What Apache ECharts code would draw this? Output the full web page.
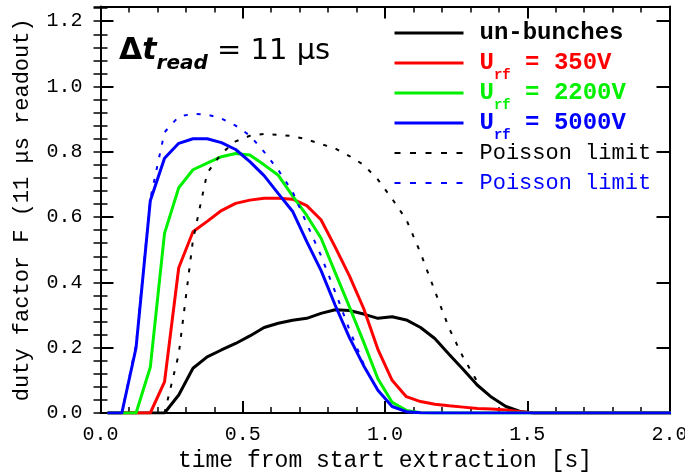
<!DOCTYPE html>
<html>
<head>
<meta charset="utf-8">
<script src="https://cdn.jsdelivr.net/npm/echarts@6/dist/echarts.min.js"></script>
<style>
html,body{margin:0;padding:0;background:#fff;}
#chart{width:685px;height:472px;}
</style>
</head>
<body>
<div id="chart"></div>
<script>
// ---- data ----
const xs = [0.025,0.075,0.125,0.175,0.225,0.275,0.325,0.375,0.425,0.475,
            0.525,0.575,0.625,0.675,0.725,0.775,0.825,0.875,0.925,0.975,
            1.025,1.075,1.125,1.175,1.225,1.275,1.325,1.375,1.425,1.475,
            1.525,1.575,1.625,1.675,1.725,1.775,1.825,1.875,1.925,1.975,2.025];

const unbunched = [0,0,0,0,0,0.055,0.137,0.172,0.193,0.213,
                   0.236,0.262,0.275,0.284,0.29,0.305,0.316,0.314,0.303,0.29,
                   0.295,0.285,0.262,0.228,0.18,0.133,0.085,0.048,0.02,0.005,
                   0,0,0,0,0,0,0,0,0,0,0];
const u350 = [0,0,0,0,0.095,0.445,0.555,0.587,0.62,0.642,
              0.652,0.658,0.658,0.655,0.635,0.592,0.508,0.42,0.32,0.195,
              0.10,0.05,0.035,0.027,0.022,0.018,0.014,0.012,0.009,0.004,
              0,0,0,0,0,0,0,0,0,0,0];
const u2200 = [0,0,0,0.14,0.55,0.69,0.745,0.765,0.785,0.795,
               0.79,0.76,0.728,0.665,0.605,0.536,0.43,0.325,0.217,0.105,
               0.033,0.008,0.001,0,0,0,0,0,0,0,
               0,0,0,0,0,0,0,0,0,0,0];
const u5000 = [0,0,0.20,0.65,0.78,0.826,0.84,0.84,0.828,0.807,
               0.77,0.727,0.672,0.618,0.525,0.437,0.33,0.231,0.145,0.07,
               0.02,0.004,0.001,0,0,0,0,0,0,0,
               0,0,0,0,0,0,0,0,0,0,0];
const poissonUnbunched = [null,null,null,null,0,0.18,0.53,0.735,0.795,0.832,
                          0.849,0.855,0.852,0.848,0.838,0.824,0.81,0.787,0.76,0.715,
                          0.656,0.592,0.49,0.374,0.26,0.17,0.095,null,null,null,
                          null,null,null,null,null,null,null,null,null,null,null];
const poisson5000 = [0,0,0.21,0.655,0.86,0.908,0.916,0.914,0.902,0.88,
                     0.85,0.80,0.744,0.678,0.58,0.482,0.371,0.255,0.15,null,
                     null,null,null,null,null,null,null,null,null,null,
                     null,null,null,null,null,null,null,null,null,null,null];

const seriesNames = ['un-bunches','Urf = 350V','Urf = 2200V','Urf = 5000V','Poisson limit (un-bunches)','Poisson limit (5000V)'];
const xTicks = [0, 0.5, 1.0, 1.5, 2.0];
const yTicks = [0, 0.2, 0.4, 0.6, 0.8, 1.0, 1.2];

function pts(vals){
  const out = [];
  vals.forEach((v,i)=>{ if(v!==null) out.push([xs[i], v]); });
  return out;
}

const MONO = 'Liberation Mono';
const GREEN = '#00f000';
const chart = echarts.init(document.getElementById('chart'), null, {renderer:'canvas'});

// spacer tokens (h above, l below) keep every legend row the same height
const spacer = {
  h: {fontFamily: MONO, fontSize:14, lineHeight:2, padding:[0,0,24,0], color:'rgba(0,0,0,0)'},
  l: {fontFamily: MONO, fontSize:14, lineHeight:2, padding:[24,0,0,0], color:'rgba(0,0,0,0)'}
};
function legendItem(name, color, kind, dotted){
  const st = {color: color, fontFamily: MONO};
  if (kind === 'u') {
    st.rich = Object.assign({
      u: {fontFamily: MONO, fontWeight:'bold', fontSize:24, color:color, lineHeight:26, padding:[0,0,0,11]},
      s: {fontFamily: MONO, fontWeight:'bold', fontSize:14, color:color, lineHeight:2, padding:[24,0,0,0]},
      t: {fontFamily: MONO, fontWeight:'bold', fontSize:24, color:color, lineHeight:26}
    }, spacer);
  } else {
    st.rich = Object.assign({
      b: {fontFamily: MONO, fontWeight: kind==='b' ? 'bold':'normal', fontSize: kind==='b'?24:22, color:color, lineHeight:26, padding:[0,0,0,11]}
    }, spacer);
  }
  return {
    name: name, textStyle: st,
    lineStyle: dotted ? {color: color, width: 2, type: [6, 9.5]} : {color: color, width: 3, type: 'solid'}
  };
}

const legendText = {};
legendText[seriesNames[0]] = '{b|un-bunches}{h| }{l| }';
legendText[seriesNames[1]] = '{u|U}{s|rf}{t| = 350V}{h| }';
legendText[seriesNames[2]] = '{u|U}{s|rf}{t| = 2200V}{h| }';
legendText[seriesNames[3]] = '{u|U}{s|rf}{t| = 5000V}{h| }';
legendText[seriesNames[4]] = '{b|Poisson limit}{h| }{l| }';
legendText[seriesNames[5]] = '{b|Poisson limit}{h| }{l| }';

const axisLineStyle = {color:'#000', width:2};

const option = {
  animation: false,
  backgroundColor: '#fff',
  grid: {left: 100.5, right: 15.5, top: 6.5, bottom: 59, containLabel: false, outerBoundsMode: 'none'},
  legend: {
    orient: 'vertical',
    left: 393, top: 14,
    padding: 0,
    itemGap: -8,
    itemWidth: 69,
    itemHeight: 14,
    itemStyle: {opacity: 0},
    data: [
      legendItem(seriesNames[0], '#000000', 'b', false),
      legendItem(seriesNames[1], '#ff0000', 'u', false),
      legendItem(seriesNames[2], GREEN, 'u', false),
      legendItem(seriesNames[3], '#0000ff', 'u', false),
      legendItem(seriesNames[4], '#000000', 'n', true),
      legendItem(seriesNames[5], '#0000ff', 'n', true)
    ],
    formatter: function(name){ return legendText[name]; },
    selectedMode: false
  },
  xAxis: [
    {
      type:'value', position:'bottom', min:0, max:2, interval:0.5,
      axisLine:{show:true, onZero:false, lineStyle:axisLineStyle},
      axisTick:{show:true, inside:true, length:12, lineStyle:{color:'#000', width:2}},
      minorTick:{show:true, splitNumber:5, length:6, lineStyle:{color:'#000', width:1.5}},
      splitLine:{show:false},
      axisLabel:{show:true, margin:12, fontFamily:MONO, fontSize:20, color:'#000',
                 formatter: v => (xTicks.some(t=>Math.abs(t-v)<1e-6) ? v.toFixed(1) : '')},
      name:'time from start extraction [s]', nameLocation:'middle', nameGap:34,
      nameTextStyle:{fontFamily:MONO, fontSize:23, color:'#000'}
    },
    {
      type:'value', position:'top', min:0, max:2, interval:0.5,
      axisLine:{show:true, onZero:false, lineStyle:axisLineStyle},
      axisTick:{show:true, inside:true, length:12, lineStyle:{color:'#000', width:2}},
      minorTick:{show:true, splitNumber:5, length:6, lineStyle:{color:'#000', width:1.5}},
      splitLine:{show:false},
      axisLabel:{show:false}
    }
  ],
  yAxis: [
    {
      type:'value', position:'left', min:0, max:1.245, interval:0.2,
      axisLine:{show:true, onZero:false, lineStyle:axisLineStyle},
      axisTick:{show:true, inside:true, length:13, lineStyle:{color:'#000', width:2}},
      splitLine:{show:false},
      axisLabel:{show:true, margin:18, fontFamily:MONO, fontSize:20, color:'#000', showMaxLabel:false,
                 formatter: v => (yTicks.some(t=>Math.abs(t-v)<1e-6) ? v.toFixed(1) : '')},
      name:'duty factor F (11 μs readout)', nameLocation:'middle', nameGap:67,
      nameTextStyle:{fontFamily:MONO, fontSize:22, color:'#000'}
    },
    {
      type:'value', position:'right', min:0, max:1.245, interval:0.2,
      axisLine:{show:true, onZero:false, lineStyle:axisLineStyle},
      axisTick:{show:true, inside:true, length:13, lineStyle:{color:'#000', width:2}},
      splitLine:{show:false},
      axisLabel:{show:false}
    },
    {
      type:'value', position:'left', min:0, max:1.245, interval:0.04,
      axisLine:{show:false},
      axisTick:{show:true, inside:true, length:7, lineStyle:{color:'#000', width:1.5}},
      splitLine:{show:false},
      axisLabel:{show:false}
    },
    {
      type:'value', position:'right', min:0, max:1.245, interval:0.04,
      axisLine:{show:false},
      axisTick:{show:true, inside:true, length:7, lineStyle:{color:'#000', width:1.5}},
      splitLine:{show:false},
      axisLabel:{show:false}
    }
  ],
  graphic: [
    {
      type:'text', left:119, top:34, z:10,
      style:{
        text:'{D|Δ}{T|t}{R|read}{N| = 11 μs}',
        rich:{
          D:{fontFamily:'DejaVu Sans', fontWeight:'bold', fontSize:30, lineHeight:34, fill:'#000'},
          T:{fontFamily:'DejaVu Sans', fontWeight:'bold', fontStyle:'italic', fontSize:30, lineHeight:34, fill:'#000'},
          R:{fontFamily:'DejaVu Sans', fontWeight:'bold', fontStyle:'italic', fontSize:20, lineHeight:2, padding:[20,0,0,0], verticalAlign:'top', fill:'#000'},
          N:{fontFamily:'DejaVu Sans', fontWeight:'normal', fontSize:29, lineHeight:34, fill:'#000'}
        }
      }
    }
  ],
  series: [
    {name:seriesNames[0], type:'line', data:pts(unbunched), symbol:'none', lineStyle:{color:'#000000', width:3}, itemStyle:{color:'#000000'}},
    {name:seriesNames[1], type:'line', data:pts(u350), symbol:'none', lineStyle:{color:'#ff0000', width:3}, itemStyle:{color:'#ff0000'}},
    {name:seriesNames[2], type:'line', data:pts(u2200), symbol:'none', lineStyle:{color:GREEN, width:3}, itemStyle:{color:GREEN}},
    {name:seriesNames[3], type:'line', data:pts(u5000), symbol:'none', lineStyle:{color:'#0000ff', width:3}, itemStyle:{color:'#0000ff'}},
    {name:seriesNames[4], type:'line', data:pts(poissonUnbunched), symbol:'none', lineStyle:{color:'#000000', width:2, type:[4,9]}, itemStyle:{color:'#000000'}},
    {name:seriesNames[5], type:'line', data:pts(poisson5000), symbol:'none', lineStyle:{color:'#0000ff', width:2, type:[4,9]}, itemStyle:{color:'#0000ff'}}
  ]
};
chart.setOption(option);
</script>
</body>
</html>
